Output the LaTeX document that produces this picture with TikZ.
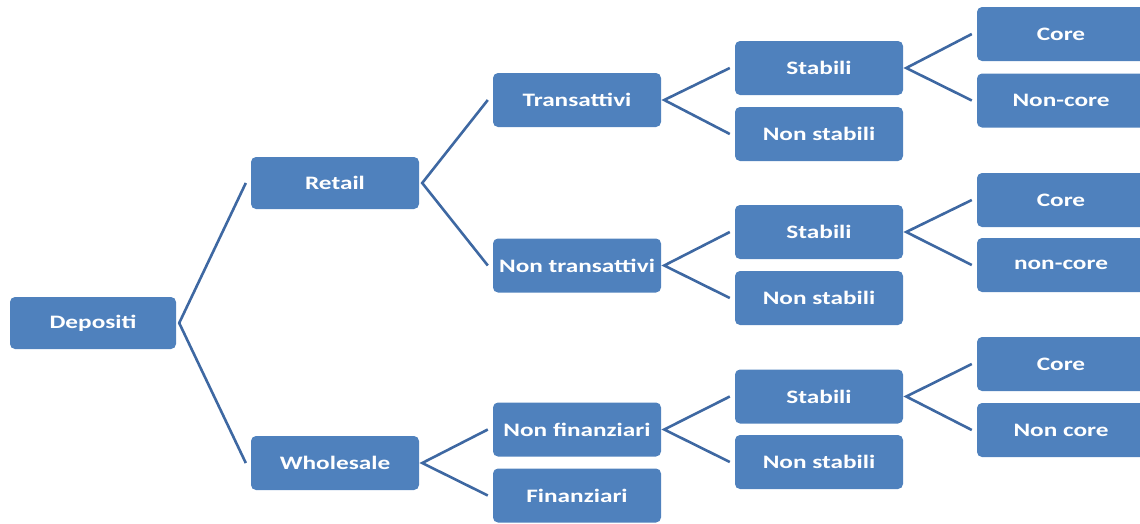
\documentclass[tikz,border=0pt]{standalone}
\usepackage{fontspec}
\usepackage{graphicx}
\setmainfont{Carlito}
\definecolor{boxblue}{RGB}{79,129,189}
\definecolor{lineblue}{RGB}{62,104,162}
\newcommand\sx[1]{\scalebox{1.33}[1]{#1}}
\tikzset{
  box/.style={fill=boxblue, rounded corners=5pt, minimum width=168pt, minimum height=54pt,
    inner sep=0pt, text=white, font=\fontsize{19}{19}\selectfont\bfseries},
  conn/.style={draw=lineblue, line width=2.6pt}
}
\begin{document}
\begin{tikzpicture}[x=1pt,y=-1pt]
\useasboundingbox (0,0) rectangle (1140,523);
\clip (0,0) rectangle (1140,523);
% level 0
\node[box, minimum width=166pt, minimum height=52pt] (dep) at (93,323) {\sx{Depositi}};
% level 1
\node[box, minimum height=52pt] (ret) at (335,183) {\sx{Retail}};
\node[box] (who) at (335,463) {\sx{Wholesale}};
% level 2
\node[box, minimum height=54pt] (tra) at (577,100) {\sx{Transattivi}};
\node[box] (ntr) at (577,265.5) {\sx{Non transattivi}};
\node[box] (nfi) at (577,429.5) {\sx{Non finanziari}};
\node[box] (fin) at (577,495.5) {\sx{Finanziari}};
% level 3
\node[box] (s1) at (819,68) {\sx{Stabili}};
\node[box] (n1) at (819,134) {\sx{Non stabili}};
\node[box] (s2) at (819,232) {\sx{Stabili}};
\node[box] (n2) at (819,298) {\sx{Non stabili}};
\node[box] (s3) at (819,396.5) {\sx{Stabili}};
\node[box] (n3) at (819,462) {\sx{Non stabili}};
% level 4
\node[box] (c1) at (1061,34) {\sx{Core}};
\node[box] (k1) at (1061,100.5) {\sx{Non-core}};
\node[box] (c2) at (1061,200) {\sx{Core}};
\node[box] (k2) at (1061,265) {\sx{non-core}};
\node[box] (c3) at (1061,364) {\sx{Core}};
\node[box] (k3) at (1061,430) {\sx{Non core}};
% connectors
\foreach \p/\a/\b in {dep/ret/who, ret/tra/ntr, who/nfi/fin, tra/s1/n1, ntr/s2/n2, nfi/s3/n3, s1/c1/k1, s2/c2/k2, s3/c3/k3}{
  \draw[conn] ([xshift=-5pt]\a.west) -- ([xshift=3pt]\p.east) -- ([xshift=-5pt]\b.west);
}
\end{tikzpicture}
\end{document}
